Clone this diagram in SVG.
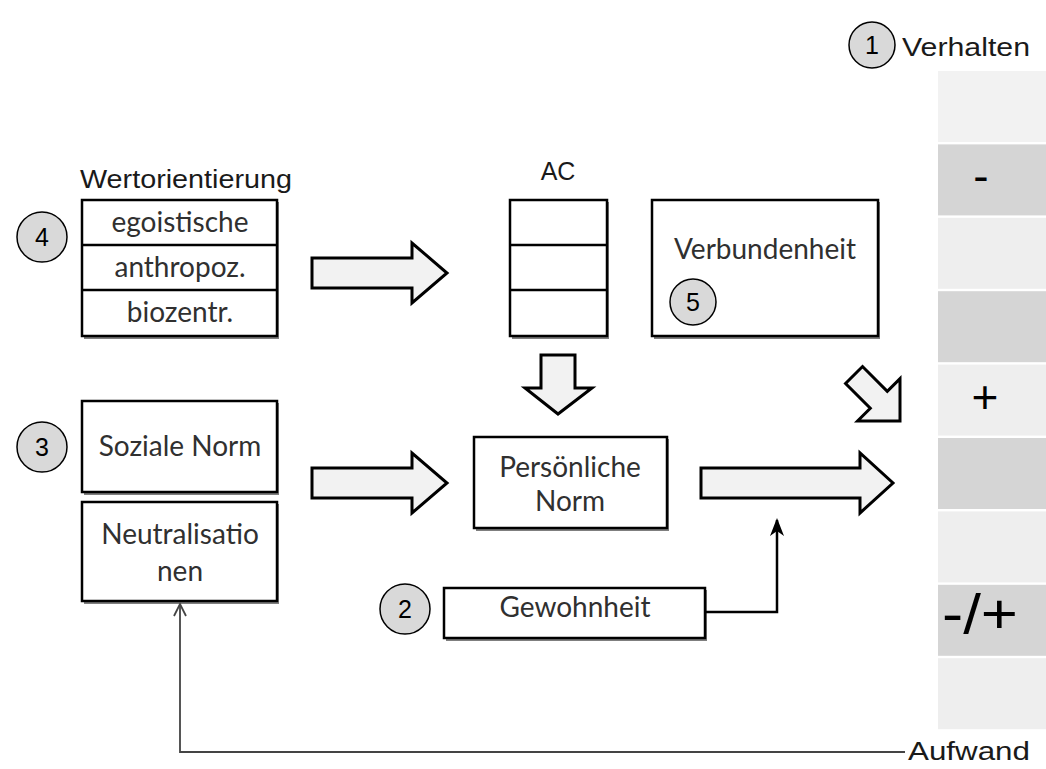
<svg xmlns="http://www.w3.org/2000/svg" width="1046" height="769" viewBox="0 0 1046 769">
  <style>
    .box { fill: #ffffff; stroke: #000000; stroke-width: 2.5; }
    .shadow { fill: #7f7f7f; }
    .txt { font-family: Lato, "Liberation Sans", sans-serif; font-size: 28px; fill: #303030; text-anchor: middle; }
    .narrow { font-family: "Liberation Sans", sans-serif; font-size: 25px; fill: #1a1a1a; }
    .num { font-family: "Liberation Sans", sans-serif; font-size: 25px; fill: #000000; text-anchor: middle; }
    .badge { fill: #d9d9d9; stroke: #000000; stroke-width: 1.5; }
    .block { fill: #f2f2f2; stroke: #000000; stroke-width: 3; stroke-linejoin: miter; }
    .sign { font-family: "Liberation Sans", sans-serif; font-size: 46px; fill: #000000; text-anchor: middle; }
    .light { fill: #eeeeee; }
    .dark { fill: #d5d5d5; }
  </style>
  <defs>
    <marker id="headFilled" viewBox="0 0 18 14" refX="16" refY="7" markerWidth="18" markerHeight="14" markerUnits="userSpaceOnUse" orient="auto">
      <path d="M18,7 L0,0 L5,7 L0,14 Z" fill="#000000"/>
    </marker>
  </defs>

  <rect width="1046" height="769" fill="#ffffff"/>

  <!-- behaviour scale on the right -->
  <g id="scale">
    <rect x="938" y="71" width="108" height="71" fill="#f2f2f2"/>
    <rect class="dark" x="938" y="144.4" width="108" height="71"/>
    <rect class="light" x="938" y="217.8" width="108" height="71"/>
    <rect class="dark" x="938" y="291.2" width="108" height="71"/>
    <rect class="light" x="938" y="364.6" width="108" height="71"/>
    <rect class="dark" x="938" y="438" width="108" height="71"/>
    <rect class="light" x="938" y="511.4" width="108" height="71"/>
    <rect class="dark" x="938" y="584.8" width="108" height="71"/>
    <rect class="light" x="938" y="658.2" width="108" height="71"/>
    <text class="sign" x="981" y="192">-</text>
    <text class="sign" x="985" y="413">+</text>
    <text class="sign" x="942" y="633" style="font-size:56px;text-anchor:start" textLength="76" lengthAdjust="spacingAndGlyphs">-/+</text>
  </g>

  <g id="verhalten">
    <circle class="badge" cx="872" cy="45" r="23"/>
    <text class="num" x="872" y="54">1</text>
    <text class="narrow" x="902" y="56" textLength="128" lengthAdjust="spacingAndGlyphs">Verhalten</text>
  </g>

  <!-- value orientation -->
  <g id="wertorientierung">
    <text class="narrow" x="80" y="188" textLength="212" lengthAdjust="spacingAndGlyphs">Wertorientierung</text>
    <rect class="shadow" x="84" y="202" width="195" height="137"/>
    <rect class="box" x="82" y="200" width="195" height="136"/>
    <line x1="82" y1="245" x2="277" y2="245" stroke="#000" stroke-width="2.5"/>
    <line x1="82" y1="290" x2="277" y2="290" stroke="#000" stroke-width="2.5"/>
    <text class="txt" x="180" y="232">egoistische</text>
    <text class="txt" x="180" y="277">anthropoz.</text>
    <text class="txt" x="180" y="322">biozentr.</text>
    <circle class="badge" cx="42" cy="237" r="25"/>
    <text class="num" x="42" y="246">4</text>
  </g>

  <g id="ac">
    <text class="narrow" x="558" y="180" text-anchor="middle">AC</text>
    <rect class="shadow" x="512" y="202" width="97" height="137"/>
    <rect class="box" x="510" y="200" width="97" height="136"/>
    <line x1="510" y1="245" x2="607" y2="245" stroke="#000" stroke-width="2.5"/>
    <line x1="510" y1="290" x2="607" y2="290" stroke="#000" stroke-width="2.5"/>
  </g>

  <g id="verbundenheit">
    <rect class="shadow" x="654" y="202" width="226" height="137"/>
    <rect class="box" x="652" y="200" width="226" height="136"/>
    <text class="txt" x="765" y="259">Verbundenheit</text>
    <circle class="badge" cx="693" cy="302" r="23"/>
    <text class="num" x="693" y="311">5</text>
  </g>

  <g id="soziale-norm">
    <rect class="shadow" x="84" y="403" width="195" height="92"/>
    <rect class="box" x="82" y="401" width="195" height="91"/>
    <text class="txt" x="180" y="456">Soziale Norm</text>
    <circle class="badge" cx="42" cy="447" r="25"/>
    <text class="num" x="42" y="456">3</text>
  </g>

  <g id="neutralisationen">
    <rect class="shadow" x="84" y="504" width="195" height="100"/>
    <rect class="box" x="82" y="502" width="195" height="99"/>
    <text class="txt" x="180" y="544">Neutralisatio</text>
    <text class="txt" x="180" y="581">nen</text>
  </g>

  <g id="persoenliche-norm">
    <rect class="shadow" x="476" y="439" width="193" height="92"/>
    <rect class="box" x="474" y="437" width="193" height="91"/>
    <text class="txt" x="570" y="477">Persönliche</text>
    <text class="txt" x="570" y="511">Norm</text>
  </g>

  <g id="gewohnheit">
    <rect class="shadow" x="446" y="590" width="261" height="51"/>
    <rect class="box" x="444" y="588" width="261" height="50"/>
    <text class="txt" x="575" y="617">Gewohnheit</text>
    <circle class="badge" cx="405" cy="609" r="25"/>
    <text class="num" x="405" y="618">2</text>
  </g>

  <g id="aufwand">
    <text class="narrow" x="908" y="760" textLength="122" lengthAdjust="spacingAndGlyphs">Aufwand</text>
  </g>

  <!-- connectors -->
  <g id="connectors">
    <path class="block" d="M312,258 H412 V243 L447,273 L412,303 V288 H312 Z"/>
    <path class="block" d="M312,468 H412 V453 L447,483 L412,513 V498 H312 Z"/>
    <path class="block" d="M701,468 H860 V453 L893,483 L860,513 V498 H701 Z"/>
    <path class="block" d="M541,355 H575 V388 H592 L558,414 L525,388 H541 Z"/>
    <path class="block" transform="translate(900,421) rotate(45)" d="M0,0 L-30,-30 V-12 H-65 V12 H-30 V30 Z"/>
    <polyline points="705,612 777,612 777,520" fill="none" stroke="#000" stroke-width="2.5" marker-end="url(#headFilled)"/>
    <polyline points="905,752 180,752 180,605" fill="none" stroke="#444" stroke-width="1.8"/>
    <polyline points="174,616 180,604 186,616" fill="none" stroke="#444" stroke-width="1.8"/>
  </g>
</svg>
